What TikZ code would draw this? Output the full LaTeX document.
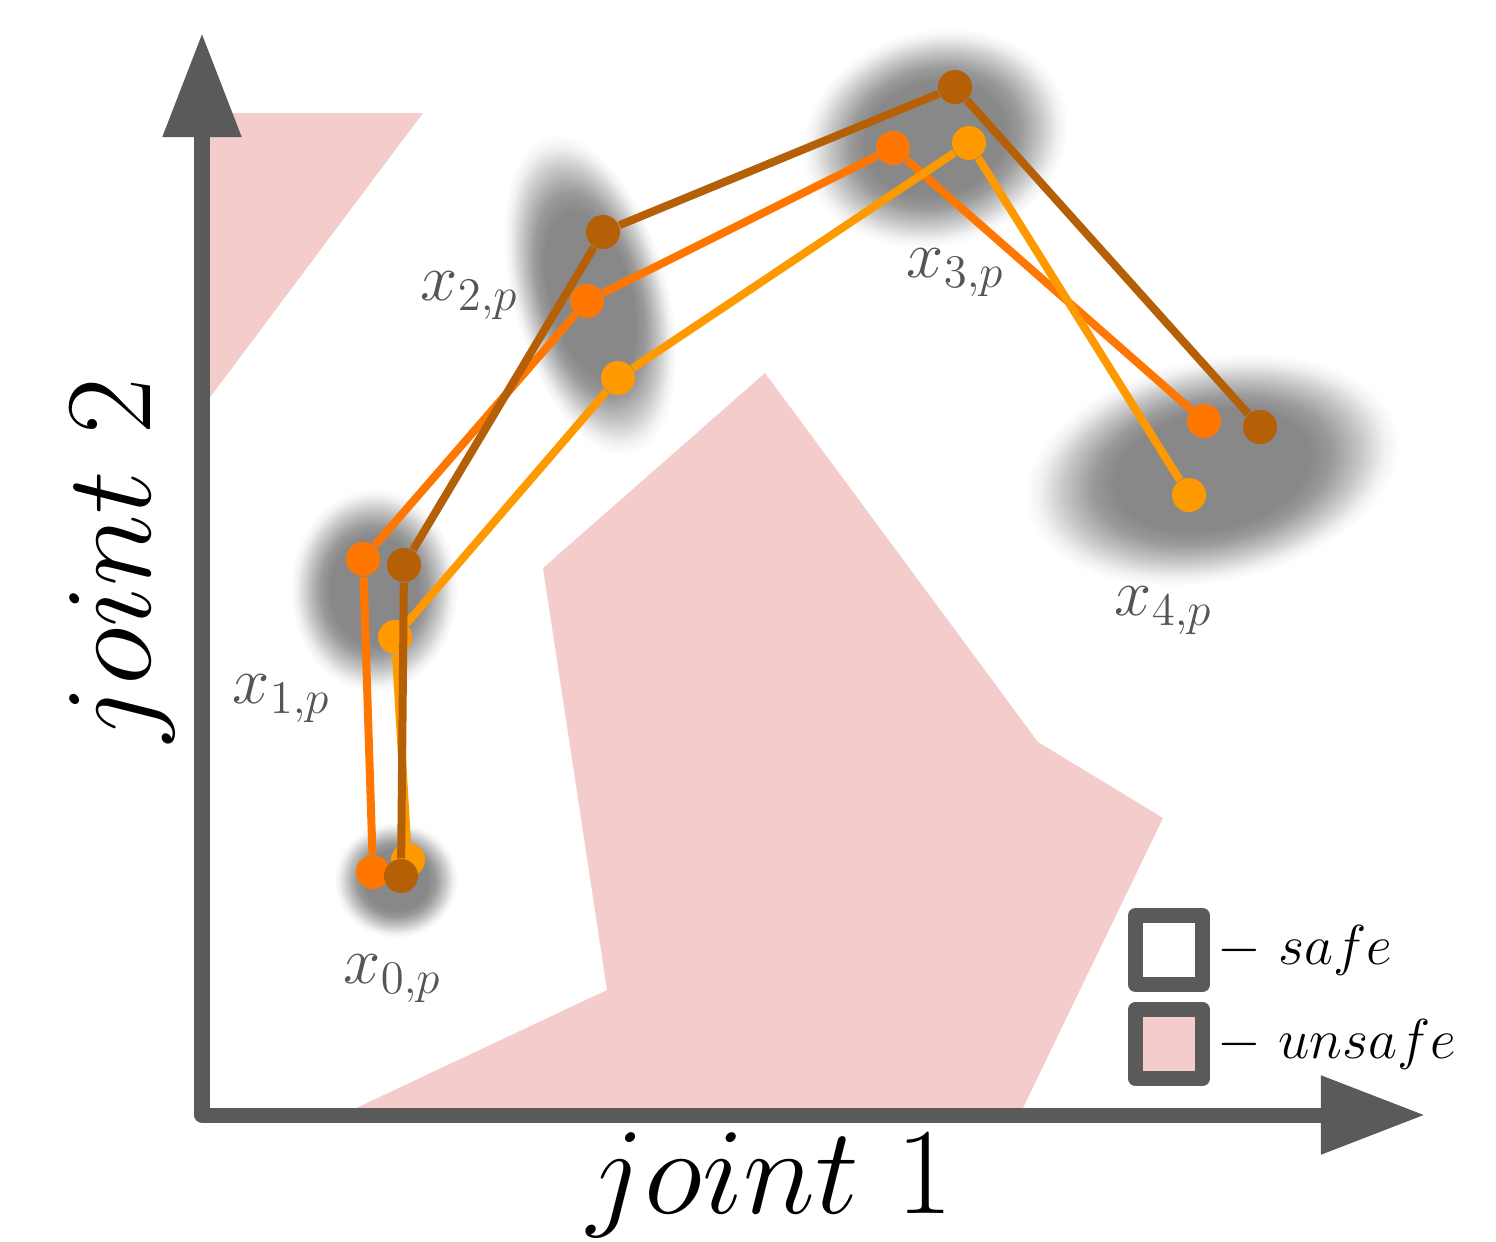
\RequirePackage{fix-cm}
\documentclass[tikz,border=0pt]{standalone}
\usepackage{amsmath}
\usepackage{xcolor}
\usepackage{tikz}
\usetikzlibrary{arrows.meta,positioning}
\definecolor{pinkfill}{RGB}{244,204,204}
\definecolor{axisgray}{RGB}{90,90,90}
\definecolor{lblgray}{RGB}{85,85,85}
\definecolor{blobgray}{RGB}{136,136,136}
\definecolor{dkcol}{RGB}{181,96,6}
\definecolor{mdcol}{RGB}{255,119,0}
\definecolor{ltcol}{RGB}{255,153,0}
\pgfdeclareradialshading{blob}{\pgfpoint{0cm}{0cm}}{color(0bp)=(blobgray); color(13bp)=(blobgray);
  color(16bp)=(blobgray!85!white); color(20bp)=(blobgray!45!white); color(23bp)=(blobgray!12!white);
  color(25bp)=(white); color(50bp)=(white)}

\begin{document}
\begin{tikzpicture}[
    x=0.01cm, y=-0.01cm,
    unsafe/.style={fill=pinkfill},
    axisline/.style={line width=0.15cm, axisgray, line join=round,
                     {Triangle[length=1.04cm,width=0.75cm]}-{Triangle[length=1.04cm,width=0.75cm]}},
    dot/.style={circle, fill=#1, inner sep=0pt, minimum size=0.34cm},
    traj/.style={line width=0.08cm, #1},
    lbl/.style={anchor=base west, inner sep=0pt, lblgray, font=\fontsize{19}{23}\selectfont},
    jointlbl/.style={anchor=base, inner sep=0pt, font=\fontsize{35}{42}\selectfont},
    legbox/.style={draw=axisgray, line width=0.15cm, line join=round,
                   minimum width=0.67cm, minimum height=0.69cm, inner sep=0pt},
    legtxt/.style={inner sep=0pt, font=\fontsize{16}{20}\selectfont}
]
  \useasboundingbox (0,0) rectangle (1496,1242);

  % unsafe regions
  \fill[unsafe] (202,113) -- (423,113) -- (202,408) -- cycle;
  \fill[unsafe] (765,373) -- (1038,742) -- (1163,818) -- (1022,1110)
    -- (352,1110) -- (607,990) -- (543,568) -- cycle;

  % uncertainty around the waypoints
  \foreach \bx/\by/\rx/\ry/\ba in {396/880/62/58/0, 374/590/84/102/0,
      590/295/78/165/15, 935/138/135/108/15, 1212/470/190/112/12}{
    \begin{scope}[transform canvas={shift={(\bx,\by)}, rotate=\ba}]
      \shade[shading=blob] (0,0) ellipse [x radius=\rx, y radius=\ry];
    \end{scope}
  }

  % axes
  \coordinate (origin) at (202,1115);
  \coordinate (ytip) at (202,33);
  \coordinate (xtip) at (1425,1115);
  \draw[axisline] (ytip) -- (origin) -- (xtip);

  % trajectories
  \foreach \n/\px/\py in {0/373/872, 1/363/559, 2/587/301, 3/893/148, 4/1204/421}
    \node[dot=mdcol] (md\n) at (\px,\py) {};
  \draw[traj=mdcol] (md0) -- (md1) -- (md2) -- (md3) -- (md4);

  \foreach \n/\px/\py in {0/408/860, 1/395/637, 2/618/378, 3/969/143, 4/1189/495}
    \node[dot=ltcol] (lt\n) at (\px,\py) {};
  \draw[traj=ltcol] (lt0) -- (lt1) -- (lt2) -- (lt3) -- (lt4);

  \foreach \n/\px/\py in {0/401/876, 1/404/565, 2/603/232, 3/955/87, 4/1260/427}
    \node[dot=dkcol] (dk\n) at (\px,\py) {};
  \draw[traj=dkcol] (dk0) -- (dk1) -- (dk2) -- (dk3) -- (dk4);

  % waypoint labels
  \node[lbl] (lbl0) at (343,983) {$x_{0,p}$};
  \node[lbl] (lbl1) at (232,703) {$x_{1,p}$};
  \node[lbl] (lbl2) at (420,300) {$x_{2,p}$};
  \node[lbl] (lbl3) at (906,277) {$x_{3,p}$};
  \node[lbl] (lbl4) at (1114,615) {$x_{4,p}$};

  % axis labels
  \node[jointlbl] (xlbl) at (770,1213) {$joint\ 1$};
  \node[jointlbl, rotate=90] (ylbl) at (150,560) {$joint\ 2$};

  % legend
  \node[legbox, fill=white] (safebox) at (1169,950) {};
  \node[legbox, fill=pinkfill, below=0.1cm of safebox] (unsafebox) {};
  \node[legtxt, right=0.07cm of safebox] (safetxt) {$-\ safe$};
  \node[legtxt, right=0.07cm of unsafebox] (unsafetxt) {$-\ unsafe$};
\end{tikzpicture}
\end{document}
